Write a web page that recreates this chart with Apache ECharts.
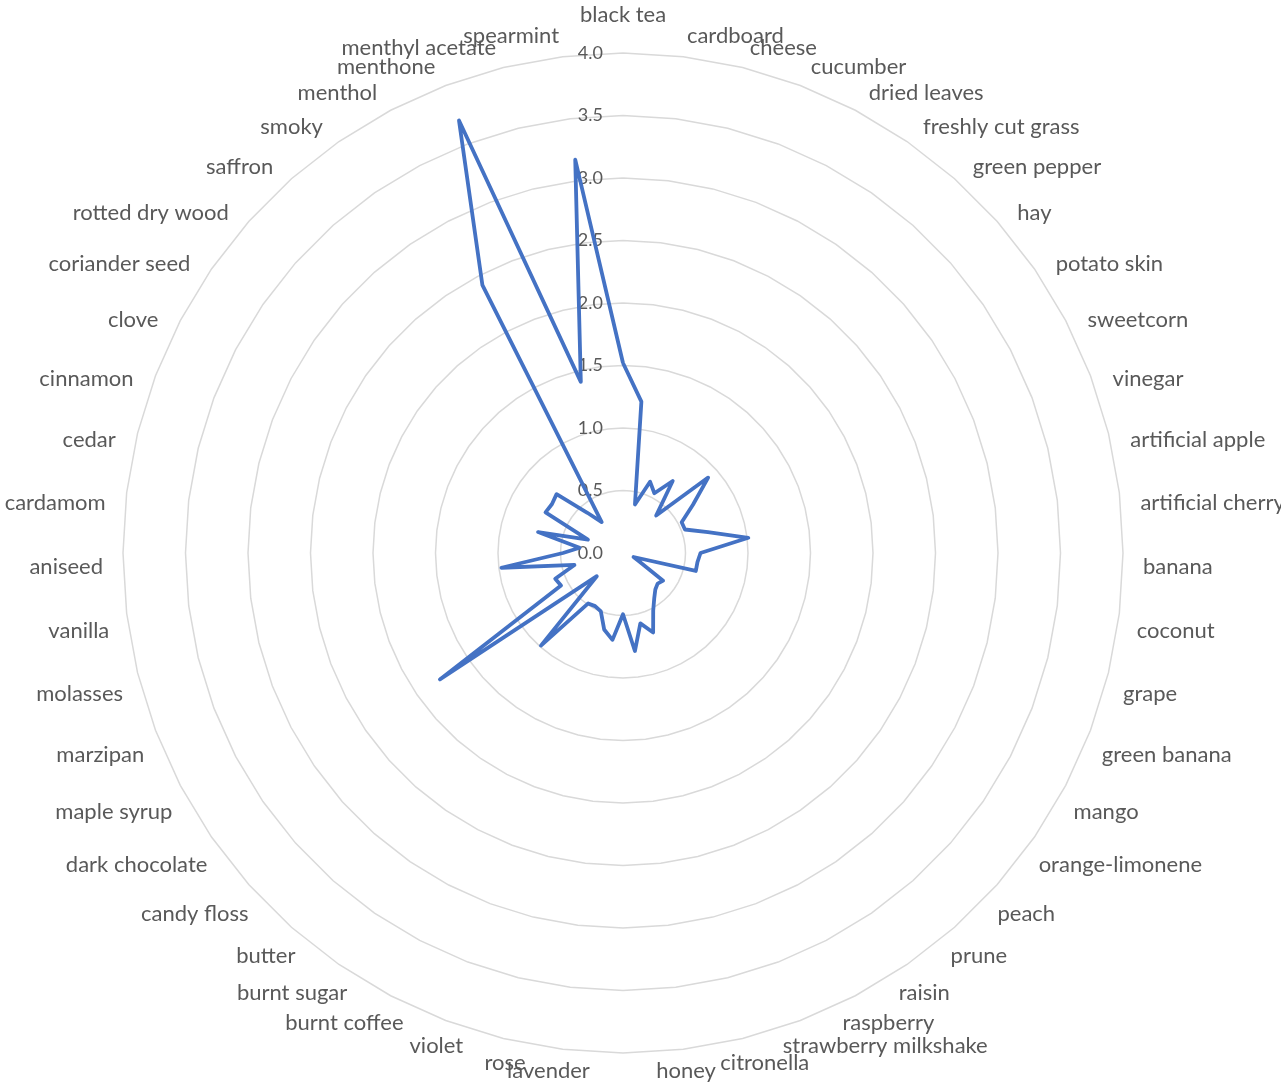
<!DOCTYPE html>
<html>
<head>
<meta charset="utf-8">
<script src="https://cdn.jsdelivr.net/npm/echarts@6/dist/echarts.min.js"></script>
<style>
  html, body { margin: 0; padding: 0; background: #ffffff; }
  #chart { width: 1281px; height: 1088px; }
</style>
</head>
<body>
<div id="chart"></div>
<script>
// Aroma descriptors, clockwise from the top
const categories = [
  'black tea', 'cardboard', 'cheese', 'cucumber', 'dried leaves', 'freshly cut grass',
  'green pepper', 'hay', 'potato skin', 'sweetcorn', 'vinegar', 'artificial apple',
  'artificial cherry', 'banana', 'coconut', 'grape', 'green banana', 'mango',
  'orange-limonene', 'peach', 'prune', 'raisin', 'raspberry', 'strawberry milkshake',
  'citronella', 'honey', 'jasmine', 'lavender', 'rose', 'violet', 'burnt coffee',
  'burnt sugar', 'butter', 'candy floss', 'dark chocolate', 'maple syrup', 'marzipan',
  'molasses', 'vanilla', 'aniseed', 'cardamom', 'cedar', 'cinnamon', 'clove',
  'coriander seed', 'rotted dry wood', 'saffron', 'smoky', 'menthol', 'menthone',
  'menthyl acetate', 'spearmint'
];

// Mean intensity score per descriptor
const intensity = [
  1.52, 1.22, 0.40, 0.61, 0.54, 0.70,
  0.40, 0.91, 0.68, 0.53, 0.53, 0.70,
  1.01, 0.62, 0.60, 0.60, 0.09, 0.15,
  0.39, 0.37, 0.39, 0.44, 0.52, 0.68,
  0.58, 0.79, 0.49, 0.70, 0.63, 0.50, 0.48,
  0.49, 0.99, 0.28, 1.78, 0.56, 0.58,
  0.40, 0.98, 0.48, 0.35, 0.70, 0.30, 0.70,
  0.69, 0.71, 0.43, 0.30, 2.42, 3.70,
  1.41, 3.17
];

// Value scale: 0.0 to 4.0 in steps of 0.5
const scaleMin = 0;
const scaleMax = 4;
const scaleStep = 0.5;

const textGrey = '#595959';
const nameFont = { color: textGrey, fontFamily: 'Lato', fontSize: 22 };
const n = categories.length;

// text widths, used to nudge each name around its anchor
const measureCtx = document.createElement('canvas').getContext('2d');
measureCtx.font = '22px Lato';
const textWidth = s => measureCtx.measureText(s).width;

// ECharts lays radar axes out counter-clockwise, so feed them in reverse
// (keeping the first one on top) to get a clockwise layout.
const order = [0];
for (let k = n - 1; k >= 1; k--) order.push(k);

const rich = {};

const indicators = order.map(i => {
  const theta = (i / n) * Math.PI * 2;
  const deg = (i / n) * 360;
  const s = Math.sin(theta);
  const c = Math.cos(theta);
  const s2 = Math.abs(Math.sin(2 * theta));
  const vertical = Math.abs(s) < 1e-6;

  // vertical nudge (px, positive = down)
  const drop = c > 0 ? 14 * s * s - 3 * s2 : 14 * s * s + 8 * s2;
  // horizontal nudge (px, positive = away from the vertical axis)
  let out = 0;
  if (!vertical) {
    if (c > 0) {
      out = 5 * s2;
    } else {
      const fromBottom = Math.abs(180 - deg);
      out = -32 * (90 - fromBottom) / 90;
    }
  }
  // centre of the name relative to its anchor, text centred there
  let shift = 0;
  if (!vertical) shift = Math.sign(s) * (out + textWidth(categories[i]) / 2);

  const key = 'n' + i;
  rich[key] = Object.assign({
    padding: [
      Math.max(0, 2 * drop), Math.max(0, -2 * shift),
      Math.max(0, -2 * drop), Math.max(0, 2 * shift)
    ]
  }, nameFont);

  let gap = 20;
  if (i === 0) gap = 27;
  if (i === n / 2) gap = 34;
  const ind = {
    name: '{' + key + '|' + categories[i] + '}',
    min: scaleMin,
    max: scaleMax,
    nameGap: gap
  };
  if (!vertical) ind.nameTextStyle = { align: 'center' };
  if (i === 0) {
    ind.axisLabel = {
      show: true,
      color: textGrey,
      fontFamily: 'Lato',
      fontSize: 18,
      margin: 20,
      formatter: v => Number(v).toFixed(1)
    };
  }
  return ind;
});

const values = order.map(i => intensity[i]);

const chart = echarts.init(document.getElementById('chart'), null, { renderer: 'canvas' });

chart.setOption({
  backgroundColor: '#ffffff',
  animation: false,
  radar: {
    center: [623, 553],
    radius: 500,
    startAngle: 90,
    shape: 'polygon',
    splitNumber: Math.round((scaleMax - scaleMin) / scaleStep),
    axisName: Object.assign({ rich: rich }, nameFont),
    axisLine: { show: false },
    axisTick: { show: false },
    axisLabel: { show: false },
    splitLine: { lineStyle: { color: '#d9d9d9', width: 1.5 } },
    splitArea: { show: false },
    indicator: indicators
  },
  series: [{
    type: 'radar',
    symbol: 'none',
    lineStyle: { color: '#4472C4', width: 3.8, join: 'round' },
    itemStyle: { color: '#4472C4' },
    data: [{ value: values, name: 'intensity' }]
  }]
});
</script>
</body>
</html>
